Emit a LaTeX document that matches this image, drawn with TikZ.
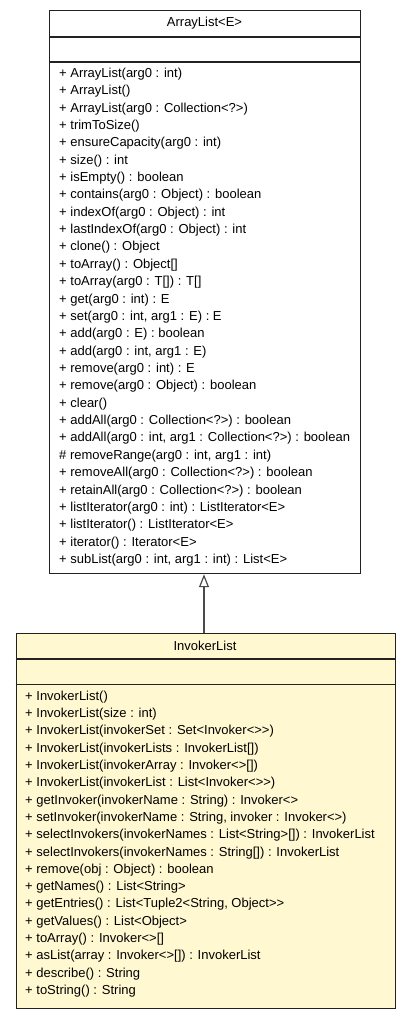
\documentclass[tikz,border=0pt]{standalone}
\usepackage{fontspec}
\setmainfont{Liberation Sans}
\usetikzlibrary{arrows.meta}
\definecolor{ilfill}{HTML}{FFF8D0}
\definecolor{edge}{HTML}{222222}
\definecolor{arrowgrey}{HTML}{4A4A4A}
\newcommand\gtgt{>\kern0pt>}
\tikzset{
  classbox/.style={draw=edge, line width=1.2pt, inner sep=0pt, anchor=north west},
  sep/.style={draw=edge, line width=1.2pt},
  member/.style={anchor=west, inner sep=0pt, font=\fontsize{13}{15}\selectfont},
  title/.style={inner sep=0pt, font=\fontsize{13}{15}\selectfont},
  extends/.style={draw=arrowgrey, line width=1.5pt, -{Triangle[open, length=13pt, width=10pt, fill=white, line width=1.2pt]}}
}
\begin{document}
\begin{tikzpicture}[x=1pt, y=-1pt]
\useasboundingbox (0,0) rectangle (408,1016);
% ArrayList box
\node[classbox, fill=white, minimum width=311pt, minimum height=563pt] (al) at (49,10) {};
\draw[sep] (49,37) -- (360,37);
\draw[sep] (49,62) -- (360,62);
\node[title] (alt) at (204.5,23.5) {ArrayList<E>};
\foreach \t [count=\i from 0] in {
  {+ ArrayList(arg0 : int)},
  {+ ArrayList()},
  {+ ArrayList(arg0 : Collection<?>)},
  {+ trimToSize()},
  {+ ensureCapacity(arg0 : int)},
  {+ size() : int},
  {+ isEmpty() : boolean},
  {+ contains(arg0 : Object) : boolean},
  {+ indexOf(arg0 : Object) : int},
  {+ lastIndexOf(arg0 : Object) : int},
  {+ clone() : Object},
  {+ toArray() : Object[]},
  {+ toArray(arg0 : T[]) : T[]},
  {+ get(arg0 : int) : E},
  {+ set(arg0 : int, arg1 : E) : E},
  {+ add(arg0 : E) : boolean},
  {+ add(arg0 : int, arg1 : E)},
  {+ remove(arg0 : int) : E},
  {+ remove(arg0 : Object) : boolean},
  {+ clear()},
  {+ addAll(arg0 : Collection<?>) : boolean},
  {+ addAll(arg0 : int, arg1 : Collection<?>) : boolean},
  {\# removeRange(arg0 : int, arg1 : int)},
  {+ removeAll(arg0 : Collection<?>) : boolean},
  {+ retainAll(arg0 : Collection<?>) : boolean},
  {+ listIterator(arg0 : int) : ListIterator<E>},
  {+ listIterator() : ListIterator<E>},
  {+ iterator() : Iterator<E>},
  {+ subList(arg0 : int, arg1 : int) : List<E>}}
  \node[member] (alm\i) at (59,{74+17.36*\i}) {\t};
% InvokerList box
\node[classbox, fill=ilfill, minimum width=379pt, minimum height=375.5pt] (il) at (15.5,632.5) {};
\draw[sep] (15.5,659) -- (394.5,659);
\draw[sep] (15.5,684.5) -- (394.5,684.5);
\node[title] (ilt) at (205,646) {InvokerList};
\foreach \t [count=\i from 0] in {
  {+ InvokerList()},
  {+ InvokerList(size : int)},
  {+ InvokerList(invokerSet : Set<Invoker<\gtgt)},
  {+ InvokerList(invokerLists : InvokerList[])},
  {+ InvokerList(invokerArray : Invoker<>[])},
  {+ InvokerList(invokerList : List<Invoker<\gtgt)},
  {+ getInvoker(invokerName : String) : Invoker<>},
  {+ setInvoker(invokerName : String, invoker : Invoker<>)},
  {+ selectInvokers(invokerNames : List<String>[]) : InvokerList},
  {+ selectInvokers(invokerNames : String[]) : InvokerList},
  {+ remove(obj : Object) : boolean},
  {+ getNames() : List<String>},
  {+ getEntries() : List<Tuple2<String, Object\gtgt},
  {+ getValues() : List<Object>},
  {+ toArray() : Invoker<>[]},
  {+ asList(array : Invoker<>[]) : InvokerList},
  {+ describe() : String},
  {+ toString() : String}}
  \node[member] (ilm\i) at (25,{697+17.3*\i}) {\t};
% generalization
\draw[extends] (il.north -| 204,0) -- (al.south -| 204,0);
\end{tikzpicture}
\end{document}
